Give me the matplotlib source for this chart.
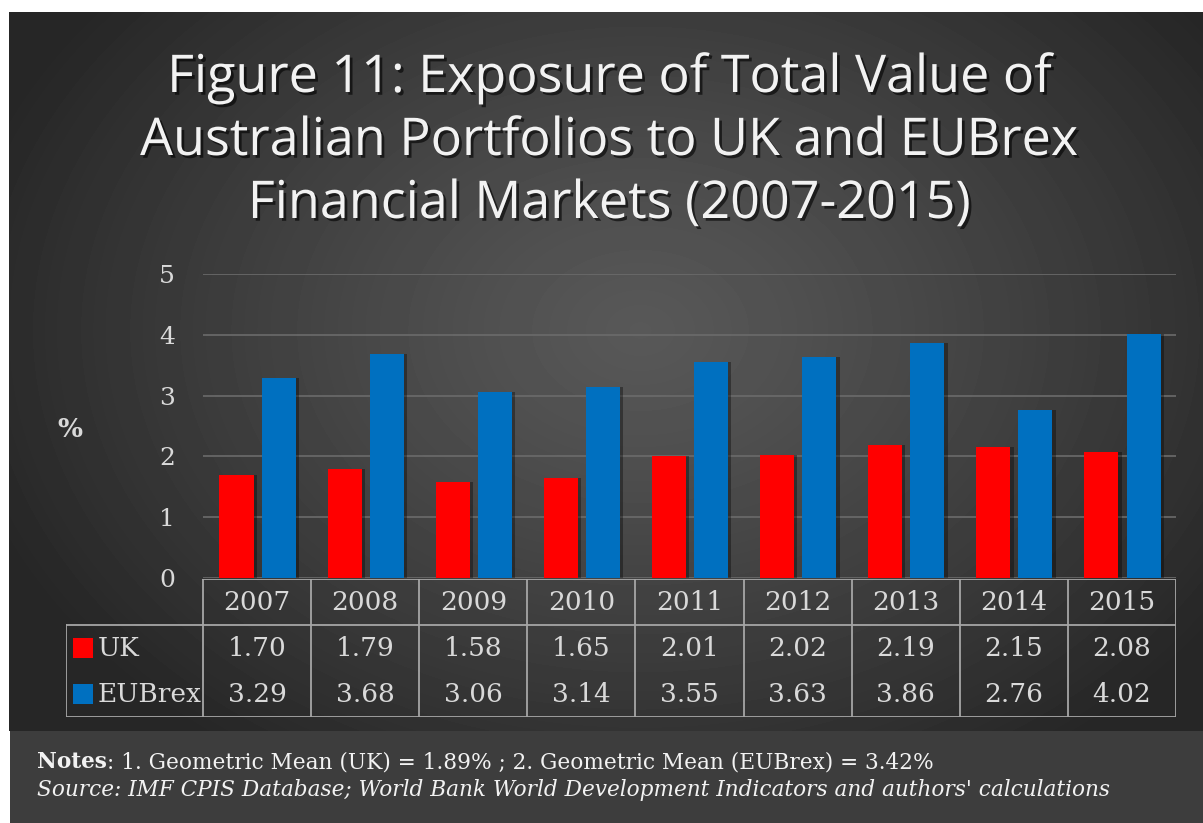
import numpy as np
import matplotlib
matplotlib.use("Agg")
import matplotlib.pyplot as plt
import matplotlib.patheffects as pe

years = ["2007", "2008", "2009", "2010", "2011", "2012", "2013", "2014", "2015"]
uk_values = [1.70, 1.79, 1.58, 1.65, 2.01, 2.02, 2.19, 2.15, 2.08]
eubrex_values = [3.29, 3.68, 3.06, 3.14, 3.55, 3.63, 3.86, 2.76, 4.02]
series_names = ["UK", "EUBrex"]
series_colors = ["#FF0000", "#0070C0"]
y_ticks = [0, 1, 2, 3, 4, 5]

title_lines = ["Figure 11: Exposure of Total Value of",
               "Australian Portfolios to UK and EUBrex",
               "Financial Markets (2007-2015)"]
notes_bold = "Notes"
notes_rest = ": 1. Geometric Mean (UK) = 1.89% ; 2. Geometric Mean (EUBrex) = 3.42%"
source_text = "Source: IMF CPIS Database; World Bank World Development Indicators and authors' calculations"

W, H = 1203, 823
fig = plt.figure(figsize=(W / 100, H / 100), dpi=100)
fig.patch.set_facecolor("white")


def px_axes(x0, y0, x1, y1):
    # pixel box (top-left origin) -> figure axes
    return fig.add_axes([x0 / W, (H - y1) / H, (x1 - x0) / W, (y1 - y0) / H])


# background with radial gradient
bg = px_axes(9, 12, W, 731)
yy, xx = np.mgrid[12:731, 9:W]
r = np.sqrt(((xx - 640) / 700.0) ** 2 + ((yy - 330) / 520.0) ** 2)
shade = 0x58 - (0x58 - 0x26) * np.clip(r, 0, 1) ** 1.2
bg.imshow(shade, cmap="gray", vmin=0, vmax=255, aspect="auto", interpolation="bilinear")
bg.axis("off")

# notes band
nb = px_axes(10, 731, W, H)
nb.set_facecolor("#3d3d3d")
nb.set_xticks([])
nb.set_yticks([])
for s in nb.spines.values():
    s.set_visible(False)

serif = "DejaVu Serif"

# title, one line at a time
shadow = [pe.withSimplePatchShadow(offset=(2, -2), shadow_rgbFace="black", alpha=0.6)]
for line, base in zip(title_lines, [92, 155, 218]):
    fig.text(610 / W, 1 - base / H, line, ha="center", va="baseline", fontsize=37.5,
             family="Open Sans", color="#F2F2F2", path_effects=shadow)

# main chart
ax = px_axes(203, 274, 1176, 578)
ax.patch.set_alpha(0)
x = np.arange(len(years))
bw = 0.315
offs = [-0.19, 0.2]
for vals, off, col in zip([uk_values, eubrex_values], offs, series_colors):
    ax.bar(x + off + 0.03, vals, bw, color="black", alpha=0.35, zorder=2)
    ax.bar(x + off, vals, bw, color=col, zorder=3)
ax.set_xlim(-0.5, len(years) - 0.5)
ax.set_ylim(0, 5)
ax.set_yticks(y_ticks)
ax.set_yticklabels([str(t) for t in y_ticks], family=serif, fontsize=18, color="#D9D9D9")
ax.tick_params(axis="y", length=0, pad=20)
ax.set_xticks([])
ax.grid(axis="y", color="#6b6b6b", lw=1.2, zorder=1)
for s in ax.spines.values():
    s.set_visible(False)
fig.text(70 / W, 1 - 430 / H, "%", family=serif, fontsize=19, fontweight="bold",
         color="#D9D9D9", ha="center", va="center")

# data table
tab = px_axes(66, 579, 1176, 717)
tab.patch.set_alpha(0)
left = -0.5 - 137 / 108.1
tab.set_xlim(left, len(years) - 0.5)
tab.set_ylim(3, 0)
tab.axis("off")
lc = "#A6A6A6"
lw = 1.3
tab.plot([-0.5, len(years) - 0.5], [0, 0], color=lc, lw=lw)
tab.plot([left, len(years) - 0.5], [1, 1], color=lc, lw=lw)
tab.plot([left, len(years) - 0.5], [3, 3], color=lc, lw=lw)
tab.plot([left, left], [1, 3], color=lc, lw=lw)
for i in range(len(years) + 1):
    tab.plot([i - 0.5, i - 0.5], [0, 3], color=lc, lw=lw)
tc = "#D9D9D9"
for i, yr in enumerate(years):
    tab.text(i, 0.5, yr, ha="center", va="center", family=serif, fontsize=19, color=tc)
    tab.text(i, 1.5, f"{uk_values[i]:.2f}", ha="center", va="center", family=serif, fontsize=19, color=tc)
    tab.text(i, 2.5, f"{eubrex_values[i]:.2f}", ha="center", va="center", family=serif, fontsize=19, color=tc)
for row, (name, col) in enumerate(zip(series_names, series_colors)):
    tab.scatter([left + 0.16], [1.5 + row], marker="s", s=190, color=col, linewidths=0, clip_on=False)
    tab.text(left + 0.295, 1.5 + row, name, ha="left", va="center", family=serif, fontsize=19, color=tc)

# notes
t1 = fig.text(37 / W, 1 - 762 / H, notes_bold, family=serif, fontsize=15.6, fontweight="bold",
              color="#F2F2F2", ha="left", va="center")
nb.annotate(notes_rest, xy=(1, 0.5), xycoords=t1, ha="left", va="center", family=serif,
            fontsize=15.6, color="#F2F2F2")
fig.text(37 / W, 1 - 790 / H, source_text, family=serif, fontsize=15.6, style="italic",
         color="#F2F2F2", ha="left", va="center")

fig.savefig("out.png", dpi=100, facecolor=fig.get_facecolor())
